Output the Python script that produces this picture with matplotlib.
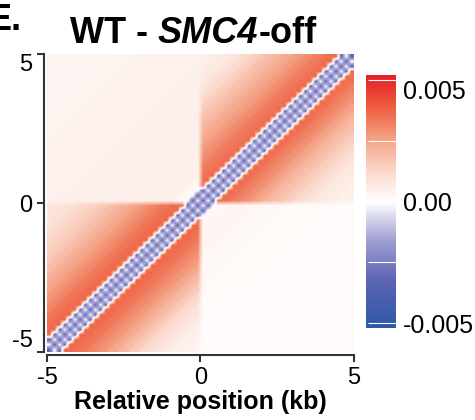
import numpy as np
import matplotlib
matplotlib.use("Agg")
import matplotlib.pyplot as plt
from matplotlib.colors import LinearSegmentedColormap, Normalize

plt.rcParams['font.family'] = ['Liberation Sans', 'DejaVu Sans']

# grid: 60 bins over -5..5 kb
n_bins = 60
extent_kb = 5.0
same_step_bins = 2    # same-side profiles in 1/3 kb steps
cross_step_bins = 6   # cross-side profiles in 1 kb steps

# contact score (x1e-3) vs distance from the diagonal
lower_left_above = [3.7, 3.7, 3.6, 3.4, 3.1, 2.8, 2.5, 2.2, 1.9, 1.6, 1.4, 1.2, 1.0, 0.9, 0.8]
lower_left_below = [3.7, 3.7, 3.6, 3.4, 3.1, 2.8, 2.4, 2.0, 1.6, 1.2, 0.9, 0.7, 0.5, 0.4, 0.3]
upper_right_above = [3.7, 3.7, 3.5, 3.3, 3.0, 2.7, 2.4, 2.1, 1.8, 1.5, 1.2, 0.9, 0.7, 0.6, 0.5]
upper_right_below = [3.7, 3.7, 3.5, 3.2, 2.9, 2.5, 2.1, 1.8, 1.5, 1.2, 0.9, 0.7, 0.6, 0.5, 0.4]
upper_left_cross = [0.2, 0.5, 0.5, 0.5, 0.45, 0.4, 0.4, 0.35, 0.3, 0.3]
lower_right_cross = [0.2, 0.3, 0.2, 0.15, 0.1, 0.1, 0.1, 0.1, 0.1, 0.1]
band_blue = -3.2
band_white = 0.0
band_half_width = 2

cbar_ticks = [-0.005, 0.0, 0.005]
cbar_ticklabels = ['-0.005', '0.00', '0.005']
cbar_minor = [-0.0025, 0.0025]
axis_ticks = [-5, 0, 5]


def build_matrix():
    half = n_bins // 2
    i, j = np.meshgrid(np.arange(n_bins), np.arange(n_bins), indexing='ij')
    d = np.abs(i - j)
    s = d // same_step_bins
    c = d // cross_step_bins
    y_neg = i < half
    x_neg = j < half
    above = i > j
    m = np.zeros((n_bins, n_bins))
    ll_a, ll_b = np.array(lower_left_above), np.array(lower_left_below)
    ur_a, ur_b = np.array(upper_right_above), np.array(upper_right_below)
    ul, lr = np.array(upper_left_cross), np.array(lower_right_cross)
    sel = y_neg & x_neg
    m[sel] = np.where(above[sel], ll_a[s[sel]], ll_b[s[sel]])
    sel = ~y_neg & ~x_neg
    m[sel] = np.where(above[sel], ur_a[s[sel]], ur_b[s[sel]])
    sel = ~y_neg & x_neg
    m[sel] = ul[c[sel]]
    sel = y_neg & ~x_neg
    m[sel] = lr[c[sel]]
    band = d <= band_half_width
    m[band] = np.where(d[band] % 2 == 0, band_blue, band_white)
    return m * 1e-3


cmap = LinearSegmentedColormap.from_list('ratio', [
    (0.0, '#2e57a8'), (0.2, '#5f66b4'), (0.35, '#a3a1d4'), (0.5, '#ffffff'),
    (0.62, '#fbd8ca'), (0.75, '#f4a184'), (0.88, '#ee5b3e'), (1.0, '#e41f26')])
norm = Normalize(vmin=-0.0052, vmax=0.0052)

fig = plt.figure(figsize=(4.75, 4.2), dpi=100)
ax = fig.add_axes([0.099, 0.162, 0.646, 0.709])

im = ax.imshow(build_matrix(), cmap=cmap, norm=norm, origin='lower',
               extent=(-extent_kb, extent_kb, -extent_kb, extent_kb),
               interpolation='bilinear', aspect='auto')

for side in ['top', 'right']:
    ax.spines[side].set_visible(False)
for side in ['left', 'bottom']:
    ax.spines[side].set_position(('outward', 2.5))
    ax.spines[side].set_linewidth(1.5)
    ax.spines[side].set_color('#333333')
    ax.spines[side].set_bounds(-extent_kb, extent_kb)

ax.set_xticks(axis_ticks)
ax.set_yticks(axis_ticks)
ax.set_xticklabels([str(t) for t in axis_ticks])
ax.set_yticklabels([str(t) for t in axis_ticks])
ax.tick_params(direction='out', length=5, width=1.5, color='#333333', labelsize=17, pad=3)
ylabels = ax.get_yticklabels()
ylabels[0].set_va('bottom')
ylabels[-1].set_va('top')
ax.set_xlabel('Relative position (kb)', fontsize=18, fontweight='bold', labelpad=1)

# title with italic gene name
t1 = fig.text(0.147, 0.898, 'WT -', fontsize=26, fontweight='bold', ha='left', va='baseline')
t2 = ax.annotate('SMC4', xy=(1, 0), xycoords=t1, xytext=(7.2, 0), textcoords='offset points',
                 fontsize=26, fontweight='bold', fontstyle='italic', ha='left', va='bottom')
ax.annotate('-off', xy=(1, 0), xycoords=t2, fontsize=26, fontweight='bold', ha='left', va='bottom')

# panel letter, cut off at the figure edge as in the source figure
fig.text(-0.025, 0.929, 'E.', fontsize=26, fontweight='bold', ha='left', va='baseline')

cax = fig.add_axes([0.7705, 0.219, 0.063, 0.602])
cb = fig.colorbar(im, cax=cax, ticks=cbar_ticks)
cb.outline.set_visible(False)
cb.ax.set_yticklabels(cbar_ticklabels)
cb.ax.yaxis.set_ticks(cbar_minor, minor=True)
cb.ax.tick_params(which='both', direction='in', length=20, width=0.8, color='white', labelsize=18, pad=5)
clabels = cb.ax.get_yticklabels()
clabels[-1].set_va('top')

fig.savefig('out.png', dpi=100)
